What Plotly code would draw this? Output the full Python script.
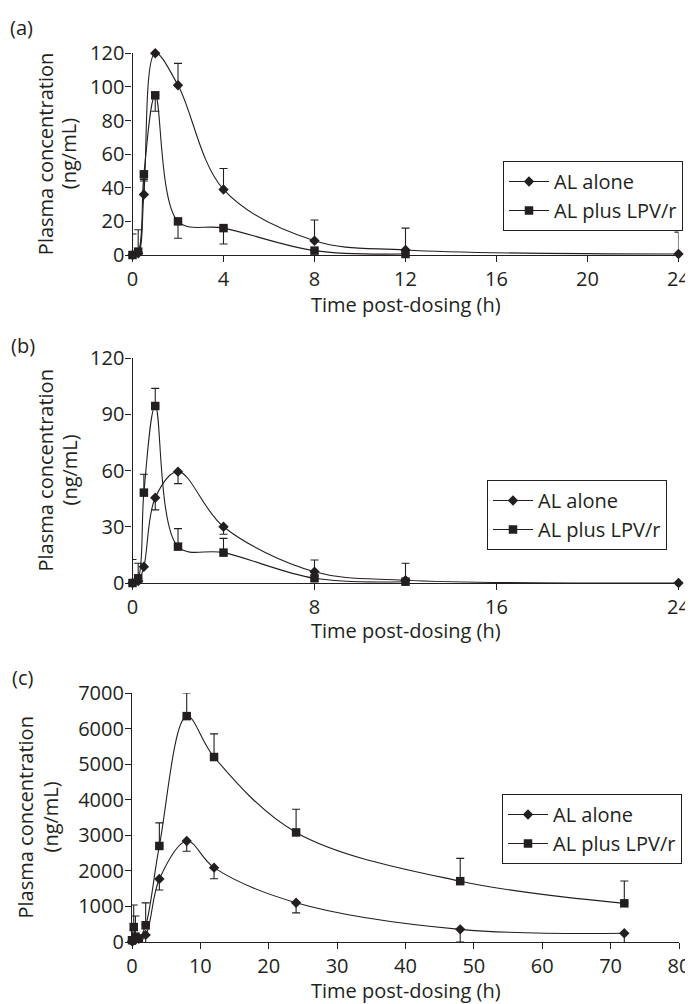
import plotly.graph_objects as go

# The page body adds an 8 px margin, so the figure is drawn 8 px smaller and
# positions (measured on the 693x1004 page) are shifted by that offset.
PAGE_W, PAGE_H = 693, 1004
OFF = 8
W, H = PAGE_W - OFF, PAGE_H - OFF


def px(x):
    return (x - OFF) / W


def py(y):
    return 1 - (y - OFF) / H


# ---------------- data ----------------
# Panel (a)
t_a_alone = [0, 0.25, 0.5, 1, 2, 4, 8, 12, 24]
a_alone = [0, 1, 36, 120, 101, 39, 8.5, 3, 0.6]
a_alone_plus = [0, 14, 9, 0, 13, 12.5, 12.3, 13, 13]
a_alone_minus = [0, 0, 0, 0, 0, 0, 0, 0, 0]

t_a_lpv = [0, 0.25, 0.5, 1, 2, 4, 8, 12]
a_lpv = [0, 2, 48, 95, 20, 16, 2.6, 0.6]
a_lpv_plus = [12.5, 0, 1, 0, 0, 0, 0, 0]
a_lpv_minus = [0, 0, 4, 9.5, 10, 9.5, 0, 0]

# Panel (b)
t_b_alone = [0, 0.25, 0.5, 1, 2, 4, 8, 12, 24]
b_alone = [0, 1, 8.7, 45.5, 59.4, 30, 6, 1.5, 0]
b_alone_plus = [12.5, 0, 0, 0, 0, 0, 6.3, 0, 0]
b_alone_minus = [0, 0, 0, 6.5, 6.4, 4, 0, 0, 0]

t_b_lpv = [0, 0.25, 0.5, 1, 2, 4, 8, 12]
b_lpv = [0, 2.5, 48.2, 94.4, 19.4, 16.2, 2.5, 0.7]
b_lpv_plus = [0, 8, 9.8, 9.4, 9.6, 7.6, 0, 9.8]
b_lpv_minus = [0, 0, 0, 0, 0, 0, 0, 0]

# Panel (c)
t_c = [0, 0.25, 0.5, 1, 2, 4, 8, 12, 24, 48, 72]
c_alone = [20, 40, 60, 90, 200, 1770, 2840, 2090, 1105, 356, 244]
c_alone_plus = [0, 0, 0, 0, 0, 0, 0, 0, 0, 0, 0]
c_alone_minus = [0, 0, 0, 0, 290, 310, 290, 310, 285, 356, 330]
c_lpv = [50, 420, 150, 100, 470, 2700, 6350, 5200, 3080, 1710, 1087]
c_lpv_plus = [0, 620, 580, 0, 630, 650, 650, 650, 650, 640, 626]
c_lpv_minus = [0, 0, 0, 0, 0, 0, 0, 0, 0, 0, 0]

x_ticks_a = [0, 4, 8, 12, 16, 20, 24]
y_ticks_a = [0, 20, 40, 60, 80, 100, 120]
x_ticks_b = [0, 8, 16, 24]
y_ticks_b = [0, 30, 60, 90, 120]
x_ticks_c = [0, 10, 20, 30, 40, 50, 60, 70, 80]
y_ticks_c = [0, 1000, 2000, 3000, 4000, 5000, 6000, 7000]

series_names = ["AL alone", "AL plus LPV/r"]
panel_labels = ["(a)", "(b)", "(c)"]
x_title = "Time post-dosing (h)"
y_title_lines = ["Plasma concentration", "(ng/mL)"]

# ---------------- style ----------------
INK = "#231f20"
FONT = "Open Sans"
FS = 20

fig = go.Figure()


def add_series(t, y, plus, minus, symbol, size, name, xa, ya, leg):
    fig.add_trace(go.Scatter(
        x=t, y=y, mode="lines+markers", name=name,
        xaxis=xa, yaxis=ya, legend=leg, cliponaxis=False,
        line=dict(shape="spline", smoothing=1, width=1.1, color=INK),
        marker=dict(symbol=symbol, size=size, color=INK),
        error_y=dict(type="data", symmetric=False, array=plus, arrayminus=minus,
                     color=INK, thickness=1.1, width=4),
    ))


add_series(t_a_alone, a_alone, a_alone_plus, a_alone_minus, "diamond", 8, series_names[0], "x", "y", "legend")
add_series(t_a_lpv, a_lpv, a_lpv_plus, a_lpv_minus, "square", 8.5, series_names[1], "x", "y", "legend")
add_series(t_b_alone, b_alone, b_alone_plus, b_alone_minus, "diamond", 8, series_names[0], "x2", "y2", "legend2")
add_series(t_b_lpv, b_lpv, b_lpv_plus, b_lpv_minus, "square", 8.5, series_names[1], "x2", "y2", "legend2")
add_series(t_c, c_alone, c_alone_plus, c_alone_minus, "diamond", 8, series_names[0], "x3", "y3", "legend3")
add_series(t_c, c_lpv, c_lpv_plus, c_lpv_minus, "square", 8.5, series_names[1], "x3", "y3", "legend3")

axis_common = dict(showline=True, linecolor=INK, linewidth=1.2, ticks="outside",
                   ticklen=6, tickcolor=INK, tickwidth=1.2, showgrid=False,
                   zeroline=False, tickfont=dict(family=FONT, size=FS, color=INK),
                   fixedrange=True, automargin=False)

panels = [
    # (x-range, x ticks, y-range, y ticks, page y of 0, page y of top, page x of 0, page x of end)
    ([0, 24], x_ticks_a, [0, 120], y_ticks_a, 255, 53.3, 132.5, 678.5),
    ([0, 24], x_ticks_b, [0, 120], y_ticks_b, 583, 358, 132.5, 678.5),
    ([0, 80], x_ticks_c, [0, 7000], y_ticks_c, 942, 693, 132, 679),
]

layout_axes = {}
for i, (xr, xt, yr, yt, y0, y1, x0, x1) in enumerate(panels):
    sfx = "" if i == 0 else str(i + 1)
    layout_axes["xaxis" + sfx] = dict(axis_common, domain=[px(x0), px(x1)], range=xr,
                                      tickvals=xt, anchor="y" + sfx)
    layout_axes["yaxis" + sfx] = dict(axis_common, domain=[py(y0), py(y1)], range=yr,
                                      tickvals=yt, anchor="x" + sfx,
                                      ticklabelstandoff=-3)

legend_common = dict(bordercolor=INK, borderwidth=1, bgcolor="white",
                     font=dict(family=FONT, size=FS, color=INK),
                     xanchor="right", yanchor="top", tracegroupgap=0,
                     itemwidth=40)
legend_pos = [(683, 161), (667, 480), (682, 794)]

annotations = []
label_pos = [(21, 27), (23, 345), (22, 677)]
xtitle_y = [305, 630, 990]
ytitle_x = [(45, 68), (45, 69), (25, 50)]
for i, (xr, xt, yr, yt, y0, y1, x0, x1) in enumerate(panels):
    lx, ly = label_pos[i]
    annotations.append(dict(text=panel_labels[i], xref="paper", yref="paper",
                            x=px(lx), y=py(ly), xanchor="center", yanchor="middle",
                            showarrow=False, font=dict(family=FONT, size=FS, color=INK)))
    annotations.append(dict(text=x_title, xref="paper", yref="paper",
                            x=px((x0 + x1) / 2), y=py(xtitle_y[i]), xanchor="center",
                            yanchor="middle", showarrow=False,
                            font=dict(family=FONT, size=FS, color=INK)))
    for line_text, tx in zip(y_title_lines, ytitle_x[i]):
        annotations.append(dict(text=line_text, xref="paper", yref="paper",
                                x=px(tx), y=py((y0 + y1) / 2), xanchor="center",
                                yanchor="middle", textangle=-90, showarrow=False,
                                font=dict(family=FONT, size=FS, color=INK)))

fig.update_layout(
    width=W, height=H,
    margin=dict(l=0, r=0, t=0, b=0, autoexpand=False),
    paper_bgcolor="white", plot_bgcolor="white",
    font=dict(family=FONT, size=FS, color=INK),
    showlegend=True,
    legend=dict(legend_common, x=px(legend_pos[0][0]), y=py(legend_pos[0][1])),
    legend2=dict(legend_common, x=px(legend_pos[1][0]), y=py(legend_pos[1][1])),
    legend3=dict(legend_common, x=px(legend_pos[2][0]), y=py(legend_pos[2][1])),
    annotations=annotations,
    **layout_axes,
)

fig.write_html("out.html", config={"displayModeBar": False})
